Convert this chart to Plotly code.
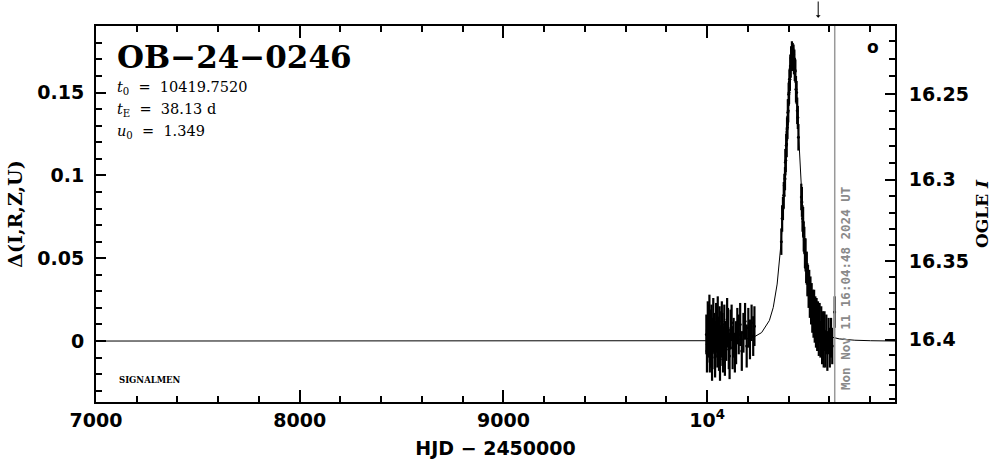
import plotly.graph_objects as go

# ---------------- data ----------------
# OGLE 2023 season (baseline)
t23 = [9996, 9999, 10001, 10003, 10006, 10008, 10011, 10013, 10016, 10019,
       10021, 10024, 10027, 10030, 10033, 10036, 10039, 10042, 10044, 10047,
       10050, 10052, 10055, 10058, 10061, 10063, 10066, 10069, 10072, 10075,
       10078, 10081, 10084, 10087, 10090, 10094, 10098, 10102, 10106, 10110,
       10115, 10120, 10125, 10130, 10136, 10142, 10148, 10155, 10162, 10170,
       10178, 10186, 10194, 10202, 10210, 10218, 10226, 10232]
d23 = [0.004, -0.006, -0.002, 0.012, 0.008, 0.002, 0.015, -0.008, -0.004, 0.006,
       0.010, -0.010, 0.003, 0.013, 0.005, -0.005, -0.009, 0.001, 0.011, 0.007,
       -0.004, 0.014, 0.002, -0.007, 0.009, -0.011, -0.003, 0.004, 0.012, 0.006,
       -0.006, -0.003, 0.010, -0.008, 0.001, 0.000, 0.013, 0.008, -0.005, -0.009,
       0.007, 0.011, -0.004, 0.002, -0.007, -0.001, 0.009, 0.004, 0.010, -0.006,
       0.005, 0.012, -0.003, 0.008, 0.001, 0.011, 0.003, 0.009]
e23 = [0.012, 0.013, 0.011, 0.012, 0.014, 0.012, 0.013, 0.011, 0.012, 0.013,
       0.012, 0.014, 0.011, 0.013, 0.012, 0.012, 0.013, 0.011, 0.012, 0.014,
       0.012, 0.013, 0.012, 0.011, 0.012, 0.013, 0.012, 0.014, 0.012, 0.011,
       0.013, 0.012, 0.012, 0.013, 0.011, 0.012, 0.013, 0.012, 0.012, 0.014,
       0.012, 0.011, 0.013, 0.012, 0.012, 0.013, 0.011, 0.012, 0.013, 0.012,
       0.012, 0.011, 0.013, 0.012, 0.012, 0.011, 0.012, 0.012]

# OGLE 2024 season (event)
t24 = [10364, 10368, 10372, 10376, 10379, 10382, 10384, 10386, 10388, 10390,
       10392, 10394, 10396, 10398, 10400, 10402, 10404, 10406, 10408, 10410,
       10412, 10414, 10416, 10418, 10420, 10422, 10424, 10426, 10428, 10430,
       10433, 10436, 10439, 10442, 10445, 10448,
       10462, 10465, 10468, 10471, 10474, 10477, 10480, 10483, 10486, 10489,
       10492, 10495, 10498, 10501, 10504, 10507, 10510, 10513, 10516, 10519,
       10522, 10525, 10528, 10531, 10534, 10537, 10540, 10544, 10548, 10552,
       10556, 10560, 10564, 10568, 10572, 10576, 10580, 10585, 10590, 10596,
       10602, 10608, 10614, 10626]
d24 = [0.060, 0.074, 0.080, 0.088, 0.094, 0.098, 0.108, 0.109, 0.118, 0.119,
       0.128, 0.129, 0.138, 0.139, 0.149, 0.150, 0.158, 0.158, 0.166, 0.165,
       0.171, 0.169, 0.175, 0.171, 0.174, 0.170, 0.173, 0.168, 0.170, 0.164,
       0.163, 0.152, 0.150, 0.139, 0.135, 0.123,
       0.087, 0.084, 0.074, 0.072, 0.063, 0.061, 0.053, 0.052, 0.044, 0.044,
       0.037, 0.037, 0.030, 0.032, 0.024, 0.028, 0.020, 0.024, 0.016, 0.021,
       0.013, 0.019, 0.010, 0.016, 0.008, 0.015, 0.006, 0.013, 0.003, 0.011,
       0.001, 0.009, -0.002, 0.007, -0.004, 0.006, -0.005, 0.004, -0.006, 0.003,
       -0.004, 0.002, -0.003, 0.0175]
e24 = [0.008, 0.008, 0.007, 0.008, 0.007, 0.007, 0.008, 0.007, 0.007, 0.008,
       0.007, 0.007, 0.008, 0.007, 0.007, 0.007, 0.006, 0.007, 0.007, 0.006,
       0.007, 0.006, 0.006, 0.007, 0.006, 0.007, 0.006, 0.007, 0.006, 0.007,
       0.007, 0.008, 0.007, 0.008, 0.007, 0.008,
       0.008, 0.009, 0.008, 0.009, 0.009, 0.008, 0.009, 0.010, 0.009, 0.010,
       0.010, 0.009, 0.010, 0.011, 0.010, 0.011, 0.010, 0.011, 0.011, 0.010,
       0.011, 0.012, 0.011, 0.011, 0.012, 0.011, 0.012, 0.011, 0.012, 0.012,
       0.011, 0.012, 0.012, 0.011, 0.012, 0.012, 0.011, 0.012, 0.012, 0.011,
       0.012, 0.012, 0.011, 0.0095]

# model curve
model_t = [7000, 9657.2, 10038.5, 10114.7, 10191.0, 10229.1, 10267.2, 10305.4,
           10324.4, 10343.5, 10353.0, 10362.6, 10372.1, 10381.6, 10391.2,
           10400.7, 10410.2, 10419.75, 10429.3, 10438.8, 10448.4, 10457.9,
           10467.4, 10477.0, 10486.5, 10496.0, 10515.1, 10534.1, 10572.3,
           10610.4, 10648.5, 10724.8, 10801.1, 10922]
model_d = [0.0, 0.0, 0.0002, 0.0005, 0.0013, 0.0024, 0.0051, 0.0124,
           0.0203, 0.0344, 0.0451, 0.0591, 0.0771, 0.0991, 0.1238,
           0.1482, 0.1667, 0.1737, 0.1667, 0.1482, 0.1238, 0.0991,
           0.0771, 0.0591, 0.0451, 0.0344, 0.0203, 0.0124, 0.0051,
           0.0024, 0.0013, 0.0005, 0.0002, 0.0]

x_ticks = [7000, 8000, 9000, 10000]
x_ticktext = ["7000", "8000", "9000", "10<sup>4</sup>"]
y_ticks = [0, 0.05, 0.1, 0.15]
y_ticktext = ["0", "0.05", "0.1", "0.15"]
mag_major = [16.25, 16.3, 16.35, 16.4]
mag_major_text = ["16.25", "16.3", "16.35", "16.4"]
mag_minor = [16.22, 16.23, 16.24, 16.26, 16.27, 16.28, 16.29, 16.31, 16.32,
             16.33, 16.34, 16.36, 16.37, 16.38, 16.39, 16.41, 16.42, 16.43, 16.44]
I0 = 16.401

now_hjd = 10626.17
arrow_hjd = 10545.0

# ------------- figure -------------
XR = [7000, 10922]
YR = [-0.0368, 0.1902]

def mag2delta(m):
    return 10 ** (-0.4 * (m - I0)) - 1

fig = go.Figure()
fig.add_trace(go.Scatter(x=model_t, y=model_d, mode="lines",
                         line=dict(color="black", width=1), hoverinfo="skip"))
for tt, dd, ee in [(t23, d23, e23), (t24, d24, e24)]:
    fig.add_trace(go.Scatter(x=tt, y=dd, mode="markers",
                             marker=dict(color="black", size=3),
                             error_y=dict(type="data", array=ee, color="black",
                                          thickness=2.2, width=0)))
fig.add_trace(go.Scatter(x=[None], y=[None], yaxis="y2", showlegend=False))
fig.add_trace(go.Scatter(x=[None], y=[None], yaxis="y3", showlegend=False))

tickfont = dict(family="DejaVu Sans", size=19, color="black", weight="bold")

fig.update_layout(
    width=999, height=459,
    margin=dict(l=96, r=104, t=26, b=57),
    paper_bgcolor="white", plot_bgcolor="white",
    showlegend=False,
    xaxis=dict(range=XR, showgrid=False, zeroline=False, automargin=False,
               showline=True, linecolor="black", linewidth=2, mirror="ticks",
               ticks="inside", ticklen=12, tickwidth=2, tickcolor="black",
               tickvals=x_ticks, ticktext=x_ticktext, tickfont=tickfont,
               minor=dict(dtick=200, ticks="inside", ticklen=6, tickwidth=2,
                          tickcolor="black", showgrid=False),
               title=dict(text="HJD − 2450000", standoff=12,
                          font=dict(family="DejaVu Sans", size=19, color="black",
                                    weight="bold"))),
    yaxis=dict(range=YR, showgrid=False, zeroline=False, automargin=False,
               showline=True, linecolor="black", linewidth=2, mirror=False,
               ticks="inside", ticklen=10, tickwidth=2, tickcolor="black",
               tickvals=y_ticks, ticktext=y_ticktext, tickfont=tickfont,
               ticklabelstandoff=6,
               minor=dict(dtick=0.01, ticks="inside", ticklen=6, tickwidth=2,
                          tickcolor="black", showgrid=False),
               title=dict(text="Δ(I,R,Z,U)", standoff=10,
                          font=dict(family="DejaVu Serif", size=19, color="black",
                                    weight="bold"))),
    yaxis2=dict(range=YR, overlaying="y", side="right", showgrid=False,
                zeroline=False, showline=True, linecolor="black", linewidth=2,
                automargin=False,
                ticks="inside", ticklen=10, tickwidth=2, tickcolor="black",
                tickvals=[mag2delta(m) for m in mag_major],
                ticktext=mag_major_text, tickfont=tickfont,
                ticklabelstandoff=8,
                title=dict(text="OGLE <i>I</i>", standoff=8,
                           font=dict(family="DejaVu Serif", size=17, color="black",
                                     weight="bold"))),
    yaxis3=dict(range=YR, overlaying="y", side="right", showgrid=False,
                zeroline=False, showline=False, showticklabels=False,
                automargin=False,
                ticks="inside", ticklen=6, tickwidth=2, tickcolor="black",
                tickvals=[mag2delta(m) for m in mag_minor]),
)

fig.add_shape(type="line", xref="x", yref="paper", x0=now_hjd, x1=now_hjd,
              y0=0, y1=1, line=dict(color="#999999", width=1.5))

serif = "DejaVu Serif"
anns = [
    dict(text="OB−24−0246", x=0.024, y=0.972, xanchor="left", yanchor="top",
         font=dict(family=serif, size=31, color="black", weight="bold")),
    dict(text="<i>t</i><sub>0</sub>  =  10419.7520", x=0.024, y=0.835,
         xanchor="left", yanchor="middle",
         font=dict(family=serif, size=14.5, color="black")),
    dict(text="<i>t</i><sub>E</sub>  =  38.13 d", x=0.024, y=0.777,
         xanchor="left", yanchor="middle",
         font=dict(family=serif, size=14.5, color="black")),
    dict(text="<i>u</i><sub>0</sub>  =  1.349", x=0.024, y=0.718,
         xanchor="left", yanchor="middle",
         font=dict(family=serif, size=14.5, color="black")),
    dict(text="SIGNALMEN", x=0.026, y=0.058, xanchor="left", yanchor="middle",
         font=dict(family=serif, size=8.5, color="black", weight="bold")),
    dict(text="<b>o</b>", x=0.972, y=0.944, xanchor="center", yanchor="middle",
         font=dict(family="DejaVu Sans", size=17, color="black")),
]
for a in anns:
    fig.add_annotation(xref="paper", yref="paper", showarrow=False, **a)

fig.add_annotation(text="Mon Nov 11 16:04:48 2024 UT", xref="x", yref="paper",
                   x=now_hjd, y=0.026, xanchor="left", yanchor="bottom",
                   xshift=1, textangle=-90, showarrow=False,
                   font=dict(family="DejaVu Sans Mono", size=12.5, color="#8a8a8a",
                             weight="bold"))

fig.add_annotation(text="", xref="x", yref="paper", x=arrow_hjd, y=1.022,
                   ax=0, ay=-19, showarrow=True, arrowhead=1, arrowsize=0.8,
                   arrowwidth=1, arrowcolor="black")

fig.write_html(
    "out.html",
    config={"displayModeBar": False},
    post_script="document.body.style.margin='0px';document.body.style.overflow='hidden';",
)
